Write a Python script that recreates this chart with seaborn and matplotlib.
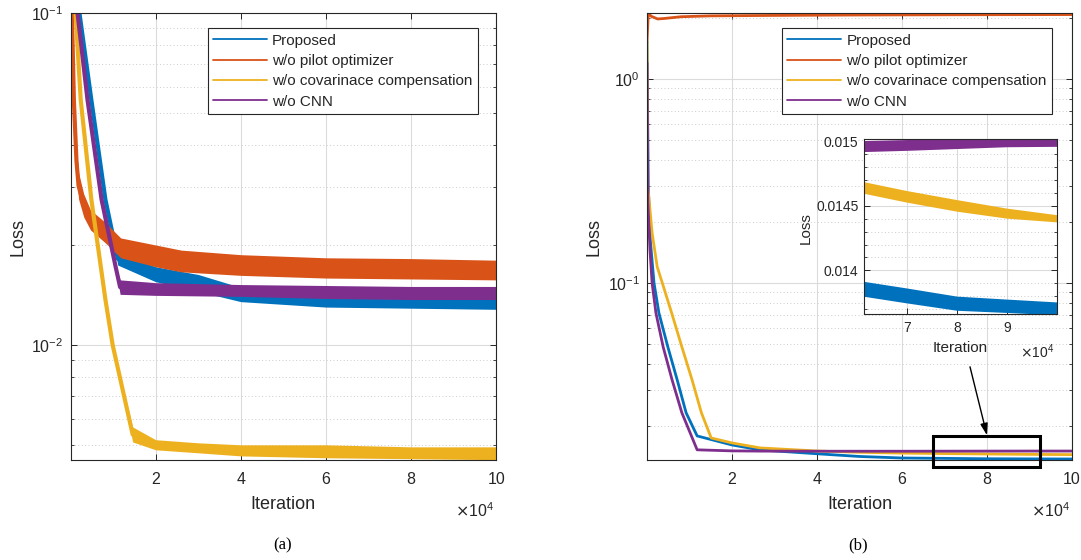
import numpy as np
import pandas as pd
import matplotlib
matplotlib.use("Agg")
import matplotlib.pyplot as plt
import seaborn as sns
from matplotlib.lines import Line2D
from matplotlib.patches import Rectangle
from matplotlib.ticker import FixedLocator, MultipleLocator, NullFormatter, FixedFormatter

# ---------------- data ----------------
series_names = ["Proposed", "w/o pilot optimizer", "w/o covarinace compensation", "w/o CNN"]
series_colors = ["#0072BD", "#D95319", "#EDB120", "#7E2F8E"]

# panel (a): iteration (x1e4), lower / upper envelope of the loss band
a_prop_x = [0.14, 0.21, 0.49, 0.82, 1.11, 2, 3, 4, 6, 8, 10]
a_prop_lo = [0.116, 0.1, 0.0547, 0.0274, 0.0174, 0.0155, 0.0145, 0.0135, 0.0130, 0.0129, 0.0128]
a_prop_hi = [0.116, 0.1, 0.0547, 0.0274, 0.0190, 0.0172, 0.0163, 0.0149, 0.0143, 0.0141, 0.0140]

a_pilot_x = [0.02, 0.08, 0.14, 0.19, 0.31, 0.47, 0.8, 1.18, 2, 2.6, 4, 6, 8, 10]
a_pilot_lo = [0.112, 0.049, 0.0325, 0.0275, 0.0243, 0.0222, 0.0204, 0.0183, 0.0172, 0.0166, 0.0162, 0.0159, 0.0158, 0.0157]
a_pilot_hi = [0.125, 0.060, 0.0395, 0.0330, 0.0285, 0.0255, 0.0235, 0.0210, 0.0200, 0.0193, 0.0187, 0.0183, 0.0182, 0.0180]

a_cov_x = [0.07, 0.12, 0.24, 0.49, 0.82, 0.99, 1.46, 2, 3, 4, 6, 8, 10]
a_cov_lo = [0.128, 0.1, 0.0547, 0.0274, 0.0137, 0.0100, 0.0051, 0.00483, 0.00473, 0.00463, 0.00457, 0.00454, 0.00451]
a_cov_hi = [0.128, 0.1, 0.0547, 0.0274, 0.0137, 0.0100, 0.00566, 0.00518, 0.00507, 0.00500, 0.00500, 0.00493, 0.00493]

a_cnn_x = [0.1, 0.165, 0.40, 0.73, 1.06, 1.165, 2, 4, 6, 8, 10]
a_cnn_lo = [0.118, 0.1, 0.0547, 0.0274, 0.0172, 0.0142, 0.0141, 0.0140, 0.0138, 0.0137, 0.0137]
a_cnn_hi = [0.118, 0.1, 0.0547, 0.0274, 0.0172, 0.0157, 0.0154, 0.0152, 0.0151, 0.0150, 0.0150]

# panel (b): iteration (x1e4), loss, half-width of the oscillation band
b_prop_x = [0, 0.03, 0.08, 0.165, 0.28, 0.49, 0.71, 0.92, 1.18, 2, 2.66, 4, 5, 6, 7, 8, 9, 10]
b_prop_y = [1.52, 0.3, 0.16, 0.1, 0.0713, 0.0486, 0.0335, 0.0231, 0.01778, 0.01606, 0.01518,
            0.01454, 0.0141, 0.01386, 0.0138, 0.01374, 0.01372, 0.0137]
b_prop_s = [0, 0, 0, 0, 0, 0, 0, 0, 0.00005, 0.00005, 0.00005, 0.00005, 0.000058, 0.000058,
            0.000058, 0.000055, 0.000052, 0.00005]

b_pilot_x = [0, 0.03, 0.1, 0.25, 0.4, 0.8, 1.5, 3, 5, 7, 10]
b_pilot_y = [1.52, 2.1, 2.03, 1.97, 1.98, 2.02, 2.04, 2.05, 2.06, 2.065, 2.07]
b_pilot_s = [0, 0, 0, 0, 0, 0, 0, 0, 0, 0, 0]

b_cov_x = [0, 0.02, 0.12, 0.24, 0.36, 0.58, 0.82, 1.06, 1.28, 1.51, 2, 2.66, 4, 5, 6, 7, 8, 9, 10]
b_cov_y = [1.52, 0.296, 0.176, 0.12, 0.1, 0.0713, 0.0486, 0.0335, 0.0231, 0.01738, 0.01643,
           0.01553, 0.0150, 0.01478, 0.01465, 0.01457, 0.0145, 0.01444, 0.0144]
b_cov_s = [0, 0, 0, 0, 0, 0, 0, 0, 0, 0.00005, 0.00005, 0.00005, 0.000045, 0.000045, 0.000045,
           0.000045, 0.000045, 0.000039, 0.000028]

b_cnn_x = [0, 0.02, 0.07, 0.12, 0.21, 0.38, 0.59, 0.82, 1.18, 2, 2.66, 4, 5, 6, 7, 8, 9, 10]
b_cnn_y = [1.2, 0.25, 0.145, 0.1, 0.0713, 0.0486, 0.0335, 0.0231, 0.0152, 0.01502, 0.01498,
           0.01496, 0.01496, 0.01496, 0.01497, 0.01498, 0.01499, 0.01499]
b_cnn_s = [0, 0, 0, 0, 0, 0, 0, 0, 0.000045, 0.000045, 0.000045, 0.000045, 0.000043, 0.000043,
           0.000042, 0.000038, 0.000034, 0.000031]

x_ticks = [2, 4, 6, 8, 10]
inset_xticks = [7, 8, 9]
inset_yticks = [0.014, 0.0145, 0.015]
inset_yticklabels = ["0.014", "0.0145", "0.015"]

# ---------------- style ----------------
sns.set_style("ticks")
plt.rcParams["font.family"] = ["Liberation Sans", "DejaVu Sans"]
plt.rcParams["axes.edgecolor"] = "0.15"
plt.rcParams["axes.linewidth"] = 0.8
plt.rcParams["text.color"] = "0.15"
plt.rcParams["axes.labelcolor"] = "0.15"

dark = "0.15"

fig = plt.figure(figsize=(10.81, 5.6), dpi=100)
axL = fig.add_axes([70.5 / 1081, 1 - 460 / 560, (496.2 - 70.5) / 1081, 447 / 560])
axR = fig.add_axes([647 / 1081, 1 - 460 / 560, 425 / 1081, 447 / 560])


def style_axes(ax, labelsize=11.5):
    ax.set_axisbelow(True)
    ax.tick_params(which="both", direction="in", top=True, right=True,
                   colors=dark, labelsize=labelsize)
    ax.tick_params(which="major", length=4, width=0.7)
    ax.tick_params(which="minor", length=2.3, width=0.6)
    ax.tick_params(axis="x", which="major", pad=9)
    ax.tick_params(axis="y", which="major", pad=5)
    ax.grid(True, which="major", color="0.86", lw=0.8, ls="-")
    ax.grid(True, which="minor", axis="y", color="0.80", lw=0.7, ls=(0, (1, 2.5)))
    for s in ax.spines.values():
        s.set_color(dark)
        s.set_linewidth(0.8)


handles = [Line2D([0], [0], color=c, lw=1.3) for c in series_colors]
legend_kw = dict(loc="upper left", frameon=True, fancybox=False, edgecolor=dark, framealpha=1,
                 fontsize=11, handlelength=3.5, handletextpad=0.35, labelspacing=0.42,
                 borderpad=0.35, borderaxespad=0)

# ---------------- panel (a) ----------------
panel_a = [(a_prop_x, a_prop_lo, a_prop_hi), (a_pilot_x, a_pilot_lo, a_pilot_hi),
           (a_cov_x, a_cov_lo, a_cov_hi), (a_cnn_x, a_cnn_lo, a_cnn_hi)]
axL.set_yscale("log")
for (xs, lo, hi), c in zip(panel_a, series_colors):
    lo = np.array(lo); hi = np.array(hi)
    df = pd.DataFrame({"x": xs, "y": np.sqrt(lo * hi)})
    sns.lineplot(data=df, x="x", y="y", ax=axL, color=c, linewidth=3, sort=False,
                 estimator=None, legend=False, zorder=2)
    axL.fill_between(xs, lo, hi, color=c, lw=0, zorder=2)

axL.set_xlim(0, 10)
axL.set_ylim(0.0045, 0.1)
axL.xaxis.set_major_locator(FixedLocator(x_ticks))
axL.yaxis.set_minor_formatter(NullFormatter())
style_axes(axL)
axL.set_xlabel("Iteration", fontsize=13)
axL.set_ylabel("Loss", fontsize=13)
axL.xaxis.label.set_va("center")
axL.yaxis.label.set_va("center")
axL.xaxis.set_label_coords(0.5, -0.1)
axL.yaxis.set_label_coords(-0.123, 0.5)
axL.text(0.995, -0.114, r"$\times\mathdefault{10^{4}}$", transform=axL.transAxes,
         ha="right", va="center", fontsize=11.5, color=dark)
legL = axL.legend(handles, series_names, bbox_to_anchor=(0.323, 0.966), **legend_kw)
legL.get_frame().set_linewidth(0.8)

# ---------------- panel (b) ----------------
panel_b = [(b_prop_x, b_prop_y, b_prop_s), (b_pilot_x, b_pilot_y, b_pilot_s),
           (b_cov_x, b_cov_y, b_cov_s), (b_cnn_x, b_cnn_y, b_cnn_s)]
axR.set_yscale("log")
for (xs, ys, ss), c in zip(panel_b, series_colors):
    df = pd.DataFrame({"x": xs, "y": ys})
    sns.lineplot(data=df, x="x", y="y", ax=axR, color=c, linewidth=2, sort=False,
                 estimator=None, legend=False, zorder=2)
axR.set_xlim(0, 10)
axR.set_ylim(0.01355, 2.107)
axR.xaxis.set_major_locator(FixedLocator(x_ticks))
axR.yaxis.set_minor_formatter(NullFormatter())
style_axes(axR)
axR.set_xlabel("Iteration", fontsize=13)
axR.set_ylabel("Loss", fontsize=13)
axR.xaxis.label.set_va("center")
axR.yaxis.label.set_va("center")
axR.xaxis.set_label_coords(0.5, -0.1)
axR.yaxis.set_label_coords(-0.125, 0.5)
axR.text(0.995, -0.114, r"$\times\mathdefault{10^{4}}$", transform=axR.transAxes,
         ha="right", va="center", fontsize=11.5, color=dark)
legR = axR.legend(handles, series_names, bbox_to_anchor=(0.318, 0.966), **legend_kw)
legR.get_frame().set_linewidth(0.8)

# zoom rectangle and arrow
axR.add_patch(Rectangle((6.73, 0.01253), 9.25 - 6.73, 0.01778 - 0.01253, fill=False,
                        ec="black", lw=2.2, clip_on=False, zorder=6))
axR.annotate("", xy=(8.0, 0.0179), xytext=(7.6, 0.0388),
             arrowprops=dict(arrowstyle="-|>,head_length=0.7,head_width=0.22",
                             color="black", lw=1.0, shrinkA=0, shrinkB=0), zorder=7)

# ---------------- inset ----------------
axI = fig.add_axes([864 / 1081, 1 - 314 / 560, 193 / 1081, 175 / 560])
axI.set_facecolor("white")
for (xs, ys, ss), c in zip(panel_b, series_colors):
    ys_a = np.array(ys); ss_a = np.array(ss)
    df = pd.DataFrame({"x": xs, "y": ys})
    sns.lineplot(data=df, x="x", y="y", ax=axI, color=c, linewidth=1.2, sort=False,
                 estimator=None, legend=False, zorder=2)
    axI.fill_between(xs, ys_a - ss_a, ys_a + ss_a, color=c, lw=0, zorder=2)
axI.set_xlim(6.13, 10)
axI.set_ylim(0.01366, 0.01502)
axI.xaxis.set_major_locator(FixedLocator(inset_xticks))
axI.yaxis.set_major_locator(FixedLocator(inset_yticks))
axI.yaxis.set_major_formatter(FixedFormatter(inset_yticklabels))
axI.yaxis.set_minor_locator(MultipleLocator(0.0001))
style_axes(axI, labelsize=10)
axI.tick_params(axis="x", which="major", pad=5)
axI.tick_params(axis="y", which="major", pad=4)
axI.set_xlabel("Iteration", fontsize=11)
axI.set_ylabel("Loss", fontsize=11)
axI.xaxis.label.set_va("center")
axI.yaxis.label.set_va("center")
axI.xaxis.set_label_coords(0.5, -0.194)
axI.yaxis.set_label_coords(-0.30, 0.49)
axI.text(0.985, -0.217, r"$\times\mathdefault{10^{4}}$", transform=axI.transAxes,
         ha="right", va="center", fontsize=10, color=dark)

# captions
fig.text(283 / 1081, 1 - 545 / 560, "(a)", ha="center", va="center", fontsize=12,
         family="Liberation Serif", color="black")
fig.text(858 / 1081, 1 - 545 / 560, "(b)", ha="center", va="center", fontsize=12,
         family="Liberation Serif", color="black")

fig.savefig("out.png", dpi=100)
